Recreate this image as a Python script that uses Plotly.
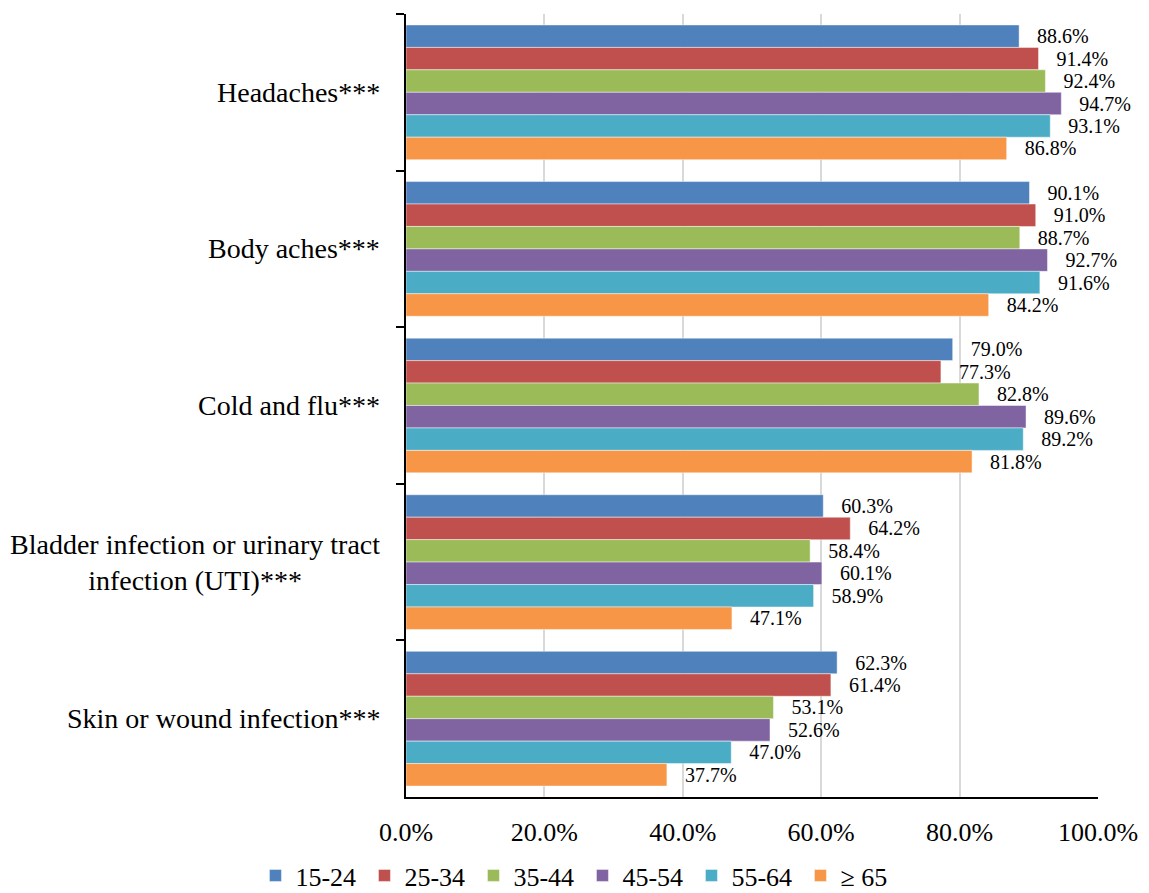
import plotly.graph_objects as go

# Symptom categories (top to bottom) and age groups
categories = [
    "Headaches***",
    "Body aches***",
    "Cold and flu***",
    "Bladder infection or urinary tract<br>infection (UTI)***",
    "Skin or wound infection***",
]
age_groups = ["15-24", "25-34", "35-44", "45-54", "55-64", "≥ 65"]

# Percentage per age group, in category order
pct_15_24 = [88.6, 90.1, 79.0, 60.3, 62.3]
pct_25_34 = [91.4, 91.0, 77.3, 64.2, 61.4]
pct_35_44 = [92.4, 88.7, 82.8, 58.4, 53.1]
pct_45_54 = [94.7, 92.7, 89.6, 60.1, 52.6]
pct_55_64 = [93.1, 91.6, 89.2, 58.9, 47.0]
pct_65_up = [86.8, 84.2, 81.8, 47.1, 37.7]

series = [pct_15_24, pct_25_34, pct_35_44, pct_45_54, pct_55_64, pct_65_up]
colors = ["#4F81BD", "#C0504D", "#9BBB59", "#8064A2", "#4BACC6", "#F79646"]

x_ticks = [0, 20, 40, 60, 80, 100]
x_tick_text = ["0.0%", "20.0%", "40.0%", "60.0%", "80.0%", "100.0%"]

FONT = "Liberation Serif"

fig = go.Figure()
for name, vals, col in zip(age_groups, series, colors):
    fig.add_trace(go.Bar(
        y=categories,
        x=vals,
        name=name,
        orientation="h",
        marker=dict(color=col, line=dict(color="rgba(255,255,255,0.45)", width=1)),
        texttemplate="\u00a0\u00a0\u00a0%{x:.1f}%",
        textposition="outside",
        textfont=dict(family=FONT, size=20, color="#000000"),
        cliponaxis=False,
        hoverinfo="skip",
    ))

fig.update_layout(
    width=1149,
    height=893,
    barmode="group",
    bargap=0.14,
    bargroupgap=0,
    plot_bgcolor="white",
    paper_bgcolor="white",
    margin=dict(l=406, r=51, t=14, b=96, autoexpand=False),
    font=dict(family=FONT, size=26, color="#000000"),
    xaxis=dict(
        range=[0, 100],
        tickvals=x_ticks,
        ticktext=x_tick_text,
        showgrid=True,
        gridcolor="#D9D9D9",
        gridwidth=1.5,
        zeroline=False,
        showline=True,
        linecolor="#000000",
        linewidth=2,
        ticks="",
        tickfont=dict(family=FONT, size=26),
        ticklabelstandoff=11,
        automargin=False,
    ),
    yaxis=dict(
        type="category",
        categoryorder="array",
        categoryarray=categories,
        autorange="reversed",
        showline=True,
        linecolor="#000000",
        linewidth=2,
        ticks="outside",
        tickson="boundaries",
        ticklen=8,
        tickwidth=2,
        tickcolor="#000000",
        showticklabels=False,
        showgrid=False,
        automargin=False,
    ),
    legend=dict(
        orientation="h",
        x=0.255,
        xanchor="center",
        y=-0.1303,
        yanchor="bottom",
        font=dict(family=FONT, size=26),
        itemwidth=30,
        entrywidth=64,
        entrywidthmode="pixels",
        traceorder="normal",
        bgcolor="rgba(0,0,0,0)",
    ),
)

# Category labels, centred line by line and right-aligned to the axis
for cat in categories:
    fig.add_annotation(
        x=0, xref="paper", xanchor="right", xshift=-24,
        y=cat, yref="y", yanchor="middle",
        text=cat, showarrow=False, align="center",
        font=dict(family=FONT, size=28, color="#000000"),
    )

fig.write_html("out.html")
